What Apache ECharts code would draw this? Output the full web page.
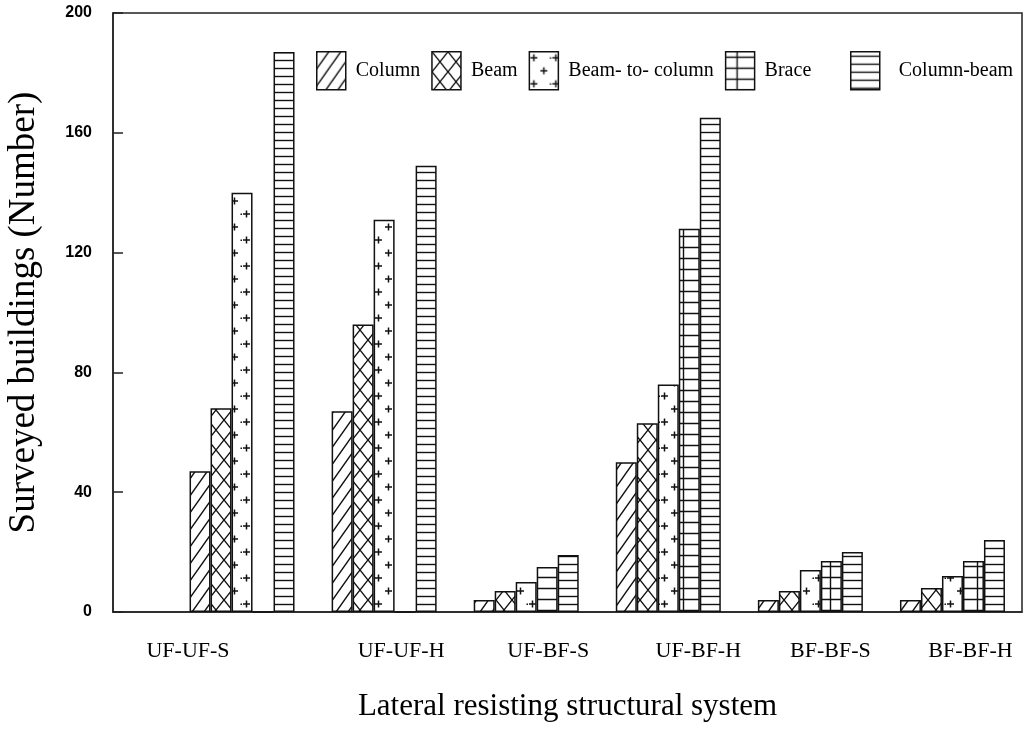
<!DOCTYPE html>
<html>
<head>
<meta charset="utf-8">
<title>Surveyed buildings by lateral resisting structural system</title>
<script src="https://cdn.jsdelivr.net/npm/echarts@6/dist/echarts.min.js"></script>
<style>
  html, body { margin: 0; padding: 0; background: #fff; }
  #chart { width: 1026px; height: 735px; }
</style>
</head>
<body>
<div id="chart"></div>
<script>
// Lateral resisting systems (x categories)
const categories = ['UF-UF-S', 'UF-UF-H', 'UF-BF-S', 'UF-BF-H', 'BF-BF-S', 'BF-BF-H'];

// Number of surveyed buildings per damaged member type
const column       = [47, 67, 4, 50, 4, 4];
const beam         = [68, 96, 7, 63, 7, 8];
const beamToColumn = [140, 131, 10, 76, 14, 12];
const brace        = [0, 0, 15, 128, 17, 17];
const columnBeam   = [187, 149, 19, 165, 20, 24];

// Y-axis tick labels
const yTicks = [0, 40, 80, 120, 160, 200];

const seriesNames = ['Column', 'Beam', 'Beam- to- column', 'Brace', 'Column-beam'];
const seriesData = [column, beam, beamToColumn, brace, columnBeam];

// Black-and-white hatch fills drawn on small tiles
function makeTile(w, h, draw) {
  const c = document.createElement('canvas');
  c.width = w; c.height = h;
  const ctx = c.getContext('2d');
  ctx.fillStyle = '#fff';
  ctx.fillRect(0, 0, w, h);
  ctx.strokeStyle = '#111';
  ctx.lineWidth = 1.4;
  draw(ctx, w, h);
  return { image: c, repeat: 'repeat' };
}

const patterns = [
  // Column: forward diagonal hatching
  makeTile(12, 17, (ctx, w, h) => {
    ctx.beginPath();
    ctx.moveTo(0, h); ctx.lineTo(w, 0);
    ctx.moveTo(-2, 2.8); ctx.lineTo(2, -2.8);
    ctx.moveTo(w - 2, h + 2.8); ctx.lineTo(w + 2, h - 2.8);
    ctx.stroke();
  }),
  // Beam: diagonal cross-hatching
  makeTile(16, 20, (ctx, w, h) => {
    ctx.beginPath();
    ctx.moveTo(0, 0); ctx.lineTo(w, h);
    ctx.moveTo(0, h); ctx.lineTo(w, 0);
    ctx.stroke();
  }),
  // Beam-to-column: scattered plus signs
  makeTile(22, 26, (ctx) => {
    ctx.lineWidth = 1.5;
    ctx.beginPath();
    ctx.moveTo(1, 6); ctx.lineTo(8, 6);
    ctx.moveTo(4.5, 2.5); ctx.lineTo(4.5, 9.5);
    ctx.moveTo(11, 19); ctx.lineTo(18, 19);
    ctx.moveTo(14.5, 15.5); ctx.lineTo(14.5, 22.5);
    ctx.stroke();
    ctx.fillStyle = '#111';
    ctx.fillRect(20.5, 5.5, 1.5, 1.5);
  }),
  // Brace: horizontal rules with a vertical divider
  makeTile(21, 11, (ctx, w, h) => {
    ctx.beginPath();
    ctx.moveTo(0, 5.5); ctx.lineTo(w, 5.5);
    ctx.moveTo(11.5, 0); ctx.lineTo(11.5, h);
    ctx.stroke();
  }),
  // Column-beam: horizontal rules
  makeTile(8, 8, (ctx, w) => {
    ctx.beginPath();
    ctx.moveTo(0, 4.5); ctx.lineTo(w, 4.5);
    ctx.stroke();
  })
];

const serif = '"Liberation Serif", "Times New Roman", serif';
const sans = '"Liberation Sans", Arial, sans-serif';

// Horizontal nudge (px) of each category caption relative to its bar group
const captionShift = [-54, 17, 22, 30, 20, 18];
const captionRich = {};
captionShift.forEach((d, i) => {
  captionRich['c' + i] = {
    fontFamily: serif, fontSize: 22, color: '#000',
    padding: d >= 0 ? [0, 0, 0, 2 * d] : [0, -2 * d, 0, 0]
  };
});

const chart = echarts.init(document.getElementById('chart'), null, { renderer: 'canvas' });

const yMin = yTicks[0];
const yMax = yTicks[yTicks.length - 1];
const yStep = yTicks[1] - yTicks[0];

chart.setOption({
  backgroundColor: '#fff',
  animation: false,
  legend: [
    {
      data: seriesNames.slice(0, 4),
      left: 311, top: 46,
      icon: 'rect',
      itemWidth: 29, itemHeight: 38, itemGap: 11,
      itemStyle: { borderColor: '#111', borderWidth: 1.5 },
      textStyle: { fontFamily: serif, fontSize: 20, color: '#000', padding: [0, 0, 0, 5] }
    },
    {
      data: seriesNames.slice(4),
      left: 845, top: 46,
      icon: 'rect',
      itemWidth: 29, itemHeight: 38,
      itemStyle: { borderColor: '#111', borderWidth: 1.5 },
      textStyle: { fontFamily: serif, fontSize: 20, color: '#000', padding: [0, 0, 0, 14] }
    }
  ],
  grid: [
    // plot frame with the value scale
    { left: 113, top: 13, right: 4, bottom: 123, outerBoundsMode: 'none', show: true, borderColor: '#222', borderWidth: 1.5, backgroundColor: 'transparent' },
    // bar groups
    { left: 171, top: 13, right: 2.5, bottom: 123, outerBoundsMode: 'none' }
  ],
  xAxis: [
    {
      gridIndex: 0, type: 'category', data: categories,
      axisLine: { show: true, lineStyle: { color: '#222', width: 1.5 } },
      axisTick: { show: false }, axisLabel: { show: false },
      name: 'Lateral resisting structural system',
      nameLocation: 'middle', nameGap: 79,
      nameTextStyle: { fontFamily: serif, fontSize: 31, color: '#000' }
    },
    {
      gridIndex: 1, type: 'category', data: categories,
      axisLine: { show: false }, axisTick: { show: false },
      axisLabel: {
        interval: 0, hideOverlap: false,
        fontFamily: serif, fontSize: 22, color: '#000', margin: 28,
        formatter: (value, index) => '{c' + index + '|' + value + '}',
        rich: captionRich
      }
    }
  ],
  yAxis: [
    {
      gridIndex: 0, type: 'value', min: yMin, max: yMax, interval: yStep,
      axisLine: { show: true, lineStyle: { color: '#222', width: 1.5 } },
      axisTick: { show: true, inside: true, length: 10, lineStyle: { color: '#222', width: 1.5 } },
      splitLine: { show: false },
      axisLabel: { fontFamily: sans, fontSize: 16, fontWeight: 'bold', color: '#000', margin: 21 },
      name: 'Surveyed buildings (Number)',
      nameLocation: 'middle', nameGap: 70,
      nameTextStyle: { fontFamily: serif, fontSize: 37, color: '#000' }
    },
    {
      gridIndex: 1, type: 'value', min: yMin, max: yMax, interval: yStep,
      show: false, splitLine: { show: false }
    }
  ],
  series: seriesNames.map((name, i) => ({
    name,
    type: 'bar',
    xAxisIndex: 1, yAxisIndex: 1,
    data: seriesData[i],
    barWidth: 21,
    barGap: '0%',
    itemStyle: { color: patterns[i], borderColor: '#111', borderWidth: 1.5 },
    emphasis: { disabled: true }
  }))
});
</script>
</body>
</html>
